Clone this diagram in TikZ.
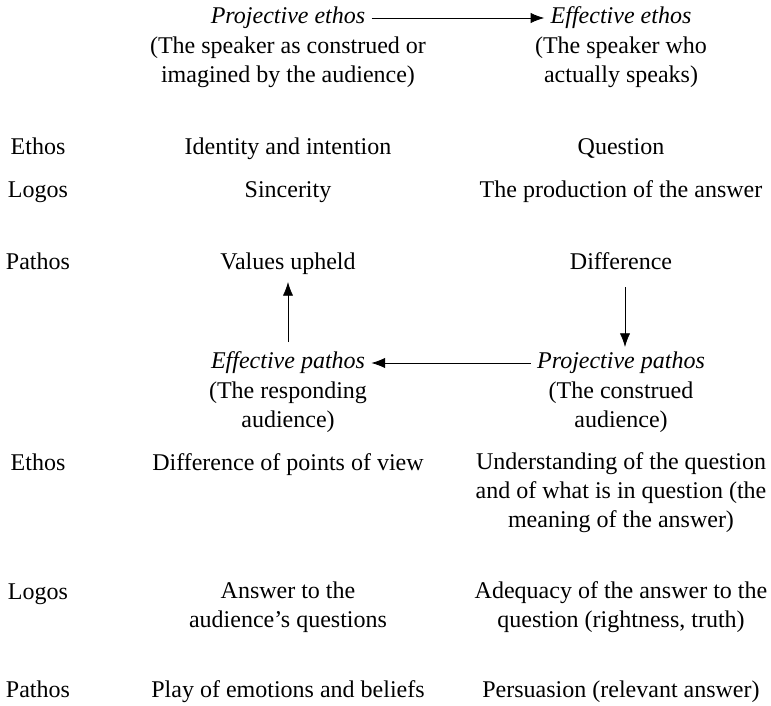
\documentclass[tikz,border=0pt]{standalone}
\usepackage{fontspec}
\setmainfont{Liberation Serif}
\usetikzlibrary{arrows.meta}

\begin{document}
\begin{tikzpicture}[x=0.5pt,y=-0.5pt,font=\fontsize{12}{14.5}\selectfont]
\def\al{2.4mm}
\def\aw{1.8mm}
\useasboundingbox (0,0) rectangle (771,706);
\tikzset{txt/.style={inner sep=2pt, align=center},
         row/.style={txt, text height=8pt, text depth=2.5pt},
         hd/.style={row, inner sep=3pt, font=\fontsize{12}{14.5}\selectfont\itshape}}

% top: ethos
\node [hd, name=pe]      at (288,18) {Projective ethos};
\node [txt, name=pet]    at (288,62) {(The speaker as construed or\\imagined by the audience)};
\node [hd, name=ee]      at (621,18) {Effective ethos};
\node [txt, name=eet]    at (621,62) {(The speaker who\\actually speaks)};

% first table
\node [row, name=r1a] at (38,149) {Ethos};
\node [row, name=r1b] at (288,149) {Identity and intention};
\node [row, name=r1c] at (621,149) {Question};
\node [row, name=r2a] at (38,192) {Logos};
\node [row, name=r2b] at (288,192) {Sincerity};
\node [row, name=r2c] at (621,192) {The production of the answer};
\node [row, name=r3a] at (38,264) {Pathos};
\node [row, name=r3b] at (288,264) {Values upheld};
\node [row, name=r3c] at (621,264) {Difference};

% middle: pathos
\node [hd, name=ep]      at (288,363) {Effective pathos};
\node [txt, name=ept]    at (288,407) {(The responding\\audience)};
\node [hd, name=pp]      at (621,363) {Projective pathos};
\node [txt, name=ppt]    at (621,407) {(The construed\\audience)};

% second table
\node [row, name=s1a] at (38,465) {Ethos};
\node [row, name=s1b] at (288,465) {Difference of points of view};
\node [txt, name=s1c, anchor=north] at (621,448) {Understanding of the question\\and of what is in question (the\\meaning of the answer)};
\node [row, name=s2a] at (38,594) {Logos};
\node [txt, name=s2b, anchor=north] at (288,577) {Answer to the\\audience's questions};
\node [txt, name=s2c, anchor=north] at (621,577) {Adequacy of the answer to the\\question (rightness, truth)};
\node [row, name=s3a] at (38,692) {Pathos};
\node [row, name=s3b] at (288,692) {Play of emotions and beliefs};
\node [row, name=s3c] at (621,692) {Persuasion (relevant answer)};

\coordinate (up1) at (288,342);
\coordinate (up2) at (288,282);
\coordinate (dn1) at (625,287);
\coordinate (dn2) at (625,347);

\draw [-{Latex[length=\al, width=\aw]}] (pe) to (ee);
\draw [-{Latex[length=\al, width=\aw]}] (pp) to (ep);
\draw [-{Latex[length=\al, width=\aw]}] (up1) to (up2);
\draw [-{Latex[length=\al, width=\aw]}] (dn1) to (dn2);
\end{tikzpicture}
\end{document}
